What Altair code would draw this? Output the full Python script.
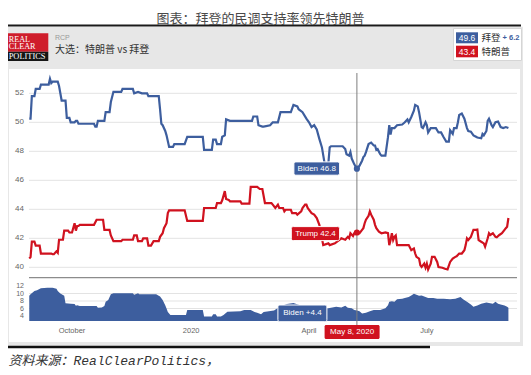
import altair as alt
import pandas as pd
from datetime import datetime, timedelta

BASE = datetime(2019, 10, 1)

# RCP polling average: (days after 2019-10-01, percent)
biden = [(-33, 50.25), (-32, 50.25), (-31, 51.8), (-29, 51.8), (-28, 52.3), (-25, 52.3), (-24, 52.6),
         (-18, 52.6), (-17, 53.0), (-16, 52.7), (-15, 52.8), (-11, 52.8), (-10, 52.5), (-9, 52.0),
         (-8, 51.5), (-5, 51.5), (-4, 50.3), (-2, 50.3), (-1, 50.0), (2, 50.0), (3, 50.1), (4, 50.1),
         (5, 49.9), (17, 49.9), (18, 49.7), (19, 49.7), (20, 50.1), (25, 50.1), (26, 50.7), (29, 50.7),
         (30, 51.4), (32, 52.1), (38, 52.1), (39, 52.3), (47, 52.3), (48, 52.0), (51, 52.1), (54, 52.0),
         (58, 52.0), (59, 51.8), (67, 51.8), (68, 50.9), (69, 49.9), (70, 49.8), (72, 49.4), (73, 49.1),
         (75, 48.3), (78, 48.3), (79, 48.5), (87, 48.5), (89, 49.0), (101, 49.0), (102, 48.1), (108, 48.1),
         (109, 48.8), (111, 48.8), (112, 48.5), (115, 48.5), (116, 49.0), (118, 49.1), (119, 50.2),
         (122, 50.1), (139, 50.1), (140, 50.4), (143, 50.4), (144, 49.8), (147, 49.7),
         (148, 49.7), (153, 49.8), (155, 50.0), (159, 50.0), (161, 50.7), (169, 50.7), (171, 51.2),
         (174, 51.1), (175, 50.9), (178, 50.7), (181, 50.25), (183, 50.0), (185, 49.67), (187, 49.8),
         (189, 49.5), (191, 48.86), (193, 48.27), (195, 47.2), (198, 47.2), (199, 48.27), (200, 48.35),
         (209, 48.35), (211, 48.15), (212, 47.8), (214, 47.7), (215, 47.95), (216, 47.5), (218, 47.1),
         (220, 46.8), (222, 47.0), (224, 47.35), (225, 47.6), (226, 47.7), (227, 47.95), (229, 48.5),
         (231, 48.6), (233, 48.4), (234, 48.4), (235, 48.1), (236, 48.15), (238, 47.8), (239, 47.7),
         (242, 47.7), (244, 48.97), (245, 49.8), (246, 49.15), (247, 49.6), (249, 49.6), (251, 49.8),
         (255, 49.85), (257, 50.0), (259, 50.2), (260, 50.0), (262, 50.37), (264, 50.8), (265, 51.2),
         (267, 51.1), (268, 50.7), (270, 49.67), (271, 49.6), (273, 50.0), (274, 49.8), (275, 49.3),
         (277, 49.6), (281, 49.6), (283, 49.3), (285, 49.3), (287, 48.97), (289, 48.67), (291, 48.67),
         (292, 49.45), (294, 49.2), (295, 49.6), (297, 49.6), (298, 50.0), (299, 50.5), (301, 50.6),
         (303, 50.25), (305, 49.6), (306, 49.4), (308, 49.35), (310, 49.1), (312, 49.0), (313, 48.95),
         (316, 48.9), (317, 49.2), (318, 49.1), (320, 49.4), (321, 50.1), (322, 50.25), (324, 49.8),
         (325, 49.67), (327, 50.0), (329, 50.05), (331, 49.67), (333, 49.6), (335, 49.67), (337, 49.6)]

trump = [(-33, 40.6), (-32, 40.7), (-31, 41.77), (-29, 41.77), (-28, 41.5), (-25, 41.5), (-24, 40.95),
         (-16, 40.95), (-15, 40.9), (-14, 40.9), (-12, 41.1), (-11, 41.0), (-10, 41.9), (-7, 41.9),
         (-6, 42.53), (-3, 42.53), (-2, 42.4), (0, 42.4), (2, 43.04), (3, 42.53), (4, 42.85), (5, 42.85),
         (6, 42.93), (17, 42.93), (19, 43.28), (24, 43.28), (25, 42.58), (29, 42.58), (30, 42.2),
         (32, 41.8), (38, 41.8), (39, 41.9), (47, 41.9), (48, 42.2), (50, 42.2), (51, 41.8), (54, 41.8),
         (55, 42.0), (58, 42.0), (59, 41.5), (61, 41.5), (63, 41.8), (67, 41.8), (68, 42.1), (70, 42.35),
         (71, 42.7), (73, 43.04), (74, 43.74), (75, 43.93), (87, 43.93), (89, 43.2), (101, 43.2),
         (102, 44.09), (111, 44.09), (112, 44.43), (115, 44.43), (116, 44.62), (118, 45.25), (119, 44.71),
         (121, 44.65), (122, 44.55), (130, 44.55), (131, 44.39), (137, 44.39), (138, 45.55), (143, 45.55),
         (145, 45.4), (147, 45.4), (149, 44.43), (154, 44.43), (155, 44.32), (157, 44.09), (159, 44.32),
         (160, 44.09), (163, 44.09), (164, 43.86), (165, 43.97), (169, 43.97), (170, 43.74), (173, 43.74),
         (174, 43.63), (177, 43.86), (178, 44.09), (180, 44.32), (181, 44.32), (182, 44.09), (185, 43.74),
         (187, 43.63), (189, 43.39), (191, 42.93), (193, 42.0), (194, 41.53), (198, 41.65), (199, 41.53),
         (203, 41.65), (208, 42.0), (211, 41.9), (213, 42.1), (214, 42.0), (215, 42.35), (217, 42.16),
         (218, 42.35), (220, 42.4), (222, 42.35), (224, 42.58), (225, 42.7), (226, 43.04), (227, 43.28),
         (229, 43.55), (230, 43.86), (231, 43.63), (233, 43.28), (234, 42.93), (235, 42.7), (237, 42.46),
         (239, 42.35), (242, 42.4), (244, 42.35), (245, 41.53), (246, 41.88), (247, 42.35), (248, 41.88),
         (249, 42.1), (250, 42.2), (251, 41.53), (260, 41.53), (262, 41.18), (264, 41.3), (265, 40.95),
         (266, 40.72), (268, 40.6), (269, 40.14), (270, 40.02), (272, 40.25), (273, 39.97), (274, 40.25),
         (275, 39.85), (277, 40.25), (278, 40.72), (280, 40.72), (282, 40.37), (283, 40.02), (286, 39.97),
         (288, 39.9), (290, 39.85), (292, 40.37), (294, 40.6), (296, 40.72), (297, 40.76), (299, 40.95),
         (301, 40.95), (303, 41.18), (304, 41.53), (305, 42.0), (306, 41.88), (308, 42.1), (310, 42.58),
         (312, 42.58), (313, 42.6), (314, 41.88), (316, 41.76), (318, 41.65), (319, 41.42), (321, 42.0),
         (322, 42.35), (323, 42.23), (325, 42.35), (327, 42.1), (328, 42.07), (330, 42.23), (332, 42.35),
         (334, 42.58), (335, 42.7), (336, 42.8), (337, 43.4)]

spread = [(-33, 9.4), (-32, 9.8), (-29, 10.67), (-27, 10.9), (-24, 11.4), (-19, 11.56), (-15, 11.56),
          (-12, 11.3), (-11, 10.67), (-9, 10.0), (-6, 9.4), (-5, 7.4), (-1, 7.3), (2, 7.2), (3, 6.76),
          (4, 6.9), (6, 6.7), (19, 6.7), (20, 6.2), (23, 6.3), (25, 6.7), (26, 7.8), (28, 8.27), (30, 9.8),
          (32, 10.1), (47, 10.1), (48, 9.7), (51, 10.1), (52, 9.8), (65, 9.8), (67, 9.4), (68, 9.2),
          (70, 8.3), (72, 6.9), (73, 6.0), (74, 5.1), (76, 4.27), (88, 4.27), (89, 5.6), (101, 5.6),
          (102, 3.9), (108, 3.9), (109, 4.45), (111, 4.45), (112, 3.9), (115, 3.9), (117, 4.3),
          (120, 5.15), (130, 5.3), (133, 5.6), (138, 5.6), (141, 5.1), (143, 4.9), (146, 4.5), (148, 5.1),
          (152, 5.3), (156, 5.5), (161, 6.6), (166, 7.2), (171, 7.5), (175, 7.0), (178, 6.6), (183, 5.9),
          (189, 6.1), (193, 6.0), (198, 6.05), (200, 6.2), (204, 6.5), (208, 6.3), (211, 6.76), (213, 6.2),
          (216, 6.05), (218, 5.6), (220, 5.5), (222, 5.3), (224, 4.7), (227, 4.9), (230, 5.3), (233, 5.6),
          (238, 5.6), (242, 6.05), (244, 6.9), (245, 7.8), (247, 7.95), (249, 7.8), (251, 8.5), (255, 8.6),
          (257, 8.8), (260, 9.1), (262, 9.5), (264, 9.95), (266, 9.7), (268, 9.4), (270, 9.5), (273, 9.1),
          (275, 8.8), (279, 8.8), (282, 8.6), (287, 8.6), (292, 8.5), (296, 8.6), (300, 9.1), (302, 8.5),
          (305, 7.8), (308, 7.1), (310, 6.5), (313, 6.8), (316, 7.3), (320, 7.6), (322, 7.5), (325, 7.3),
          (327, 7.8), (329, 7.3), (331, 7.1), (334, 6.8), (336, 6.5), (337, 6.2)]

main_ticks = [40, 42, 44, 46, 48, 50, 52]
spread_ticks = [4, 6, 8, 10, 12]
spread_grid = [6, 8, 10]
spread_floor = 2.67
month_ticks = ["2019-10-01T00:00:00", "2020-01-01T00:00:00", "2020-04-01T00:00:00", "2020-07-01T00:00:00"]
month_labels = ["October", "2020", "April", "July"]

cursor_date = "2020-05-08T00:00:00"
cursor_label = "May 8, 2020"
cursor_biden = 46.8
cursor_trump = 42.4
cursor_spread = 4.4

title_text = "图表：拜登的民调支持率领先特朗普"
subtitle_small = "RCP"
subtitle_text = "大选：特朗普 vs 拜登"
source_text = "资料来源：RealClearPolitics，"
names = ["拜登", "特朗普"]

BLUE = "#3d5e9e"
RED = "#d0121f"
SANS = "Liberation Sans"
CJK = "Noto Sans CJK SC"
W, H = 488, 253


def iso(d):
    return (BASE + timedelta(days=d)).strftime("%Y-%m-%dT%H:%M:%S")


def frame(pairs):
    return pd.DataFrame({"date": [iso(d) for d, _ in pairs], "value": [v for _, v in pairs]})


biden_df = frame(biden)
trump_df = frame(trump)
spread_df = frame(spread)
cur = pd.DataFrame({"date": [cursor_date], "biden": [cursor_biden], "trump": [cursor_trump],
                    "spread": [cursor_spread]})
one = pd.DataFrame({"k": [0]})

X_SCALE = alt.Scale(domain=[alt.DateTime(year=2019, month=8, date=28, hours=19, minutes=12),
                            alt.DateTime(year=2020, month=9, date=8, hours=15, minutes=7)])
MAIN_Y = alt.Scale(domain=[40, 52], range=[199.3, 25.3], zero=False, nice=False)
SPREAD_Y = alt.Scale(domain=[4, 12], range=[248, 218], zero=False, nice=False)

X = alt.X("date:T", scale=X_SCALE, axis=None)


def rect(x1, x2, y1, y2, fill, **kw):
    return alt.Chart(one).mark_rect(color=fill, **kw).encode(
        x=alt.value(x1), x2=alt.value(x2), y=alt.value(y1), y2=alt.value(y2))


def hline(x1, x2, y, color, w):
    return alt.Chart(one).mark_rule(color=color, strokeWidth=w).encode(
        x=alt.value(x1), x2=alt.value(x2), y=alt.value(y))


def txt(s, x, y, size, color, font=SANS, align="left", **kw):
    return alt.Chart(one).mark_text(text=s, align=align, baseline="middle", fontSize=size,
                                    color=color, font=font, **kw).encode(
        x=alt.value(x), y=alt.value(y))


layers = []
# frame, header band and white panel
layers.append(rect(-21, 494, -41.3, 278, "#e7e7e7"))
layers.append(rect(-20, 491, 1, 274, "white"))
layers.append(hline(-21, 492, -42.5, "#1a1a1a", 2.2))
# logo
layers.append(rect(-21, 19.3, -34.7, -16.3, "#cf1d2b"))
layers.append(rect(-21, 19.3, -16.3, -7, "#161616"))
layers.append(txt("REAL", -20.3, -28.3, 8.2, "white", font="Liberation Serif"))
layers.append(txt("CLEAR", -20.3, -20.8, 8.2, "white", font="Liberation Serif"))
layers.append(txt("POLITICS", -20.3, -11.6, 8.4, "white", font="Liberation Serif"))
layers.append(txt(subtitle_small, 26, -30.5, 7, "#9a9a9a"))
layers.append(txt(subtitle_text, 26, -17.7, 10, "#333333", font=CJK))
# legend box
b_last = biden[-1][1]
t_last = trump[-1][1]
layers.append(rect(424.5, 492.5, -39.5, -7.5, "white", stroke="#d5d5d5", strokeWidth=1))
layers.append(rect(427, 449, -35.7, -24.7, BLUE))
layers.append(rect(427, 449, -22.3, -10.7, RED))
layers.append(txt(f"{b_last}", 438, -30.2, 8.5, "white", align="center"))
layers.append(txt(f"{t_last}", 438, -16.5, 8.5, "white", align="center"))
layers.append(txt(names[0], 452.5, -30.2, 9.5, "#333333", font=CJK))
layers.append(txt(names[1], 452.5, -16.5, 9.5, "#333333", font=CJK))
layers.append(txt(f"+ {b_last - t_last:.1f}", 473.5, -30.2, 7.5, BLUE, fontWeight="bold"))
# title
layers.append(txt(title_text, 231.5, -48.7, 13, "#4a4a4a", font=CJK, align="center"))

# main grid + labels
main_df = pd.DataFrame({"v": main_ticks})
layers.append(alt.Chart(main_df).mark_rule(color="#e3e3e3", strokeWidth=1).encode(
    y=alt.Y("v:Q", scale=MAIN_Y, axis=None), x=alt.value(0), x2=alt.value(W)))
layers.append(alt.Chart(main_df).mark_text(align="right", baseline="middle", fontSize=8,
                                           color="#666666", font=SANS).encode(
    y=alt.Y("v:Q", scale=MAIN_Y, axis=None), x=alt.value(-5), text="v:Q"))

# spread grid + labels
layers.append(alt.Chart(pd.DataFrame({"v": spread_grid})).mark_rule(color="#e3e3e3", strokeWidth=1).encode(
    y=alt.Y("v:Q", scale=SPREAD_Y, axis=None), x=alt.value(0), x2=alt.value(W)))
layers.append(alt.Chart(pd.DataFrame({"v": spread_ticks})).mark_text(
    align="right", baseline="middle", fontSize=7, color="#666666", font=SANS).encode(
    y=alt.Y("v:Q", scale=SPREAD_Y, axis=None), x=alt.value(-5), text="v:Q"))
layers.append(hline(0, W, 209.7, "#8c8c8c", 1.2))

# spread area
layers.append(alt.Chart(spread_df).mark_area(color=BLUE, opacity=1).encode(
    x=X, y=alt.Y("value:Q", scale=SPREAD_Y, axis=None), y2=alt.datum(spread_floor)))

# lines
layers.append(alt.Chart(biden_df).mark_line(color=BLUE, strokeWidth=2.2).encode(
    x=X, y=alt.Y("value:Q", scale=MAIN_Y, axis=None)))
layers.append(alt.Chart(trump_df).mark_line(color=RED, strokeWidth=2.2).encode(
    x=X, y=alt.Y("value:Q", scale=MAIN_Y, axis=None)))

# month labels
month_df = pd.DataFrame({"date": month_ticks, "label": month_labels})
layers.append(alt.Chart(month_df).mark_text(fontSize=7.5, color="#666666", font=SANS,
                                            baseline="middle").encode(
    x=X, y=alt.value(263.3), text="label:N"))

# crosshair
layers.append(alt.Chart(cur).mark_rule(color="#7d7d7d", strokeWidth=1).encode(
    x=X, y=alt.value(5), y2=alt.value(257)))
layers.append(alt.Chart(cur).mark_circle(size=38, color=BLUE, opacity=1).encode(
    x=X, y=alt.Y("biden:Q", scale=MAIN_Y, axis=None)))
layers.append(alt.Chart(cur).mark_circle(size=38, color=RED, opacity=1).encode(
    x=X, y=alt.Y("trump:Q", scale=MAIN_Y, axis=None)))

# tooltip boxes
layers.append(alt.Chart(cur).mark_rect(color=BLUE, cornerRadius=2, stroke="white", strokeWidth=1,
                                       xOffset=-63, x2Offset=-17.3, yOffset=-6.8, y2Offset=6.5).encode(
    x=X, x2="date:T", y=alt.Y("biden:Q", scale=MAIN_Y, axis=None), y2="biden:Q"))
layers.append(alt.Chart(cur).mark_text(color="white", fontSize=8, font=SANS, dx=-40.2, dy=0,
                                       baseline="middle").encode(
    x=X, y=alt.Y("biden:Q", scale=MAIN_Y, axis=None), text=alt.value(f"Biden {cursor_biden}")))

layers.append(alt.Chart(cur).mark_rect(color=RED, cornerRadius=2, stroke="white", strokeWidth=1,
                                       xOffset=-65.6, x2Offset=-17.3, yOffset=-5.9, y2Offset=8.1).encode(
    x=X, x2="date:T", y=alt.Y("trump:Q", scale=MAIN_Y, axis=None), y2="trump:Q"))
layers.append(alt.Chart(cur).mark_text(color="white", fontSize=8, font=SANS, dx=-41.4, dy=1.1,
                                       baseline="middle").encode(
    x=X, y=alt.Y("trump:Q", scale=MAIN_Y, axis=None), text=alt.value(f"Trump {cursor_trump}")))

layers.append(alt.Chart(cur).mark_rect(color=BLUE, cornerRadius=2, stroke="white", strokeWidth=1,
                                       xOffset=-79, x2Offset=-30, yOffset=-9.5, y2Offset=7.2).encode(
    x=X, x2="date:T", y=alt.Y("spread:Q", scale=SPREAD_Y, axis=None), y2="spread:Q"))
layers.append(alt.Chart(cur).mark_text(color="white", fontSize=8, font=SANS, dx=-54.5, dy=-1.2,
                                       baseline="middle").encode(
    x=X, y=alt.Y("spread:Q", scale=SPREAD_Y, axis=None), text=alt.value(f"Biden +{cursor_spread}")))

# date box
layers.append(alt.Chart(cur).mark_rect(color=RED, cornerRadius=1.5, xOffset=-32.3, x2Offset=22.7).encode(
    x=X, x2="date:T", y=alt.value(257), y2=alt.value(271)))
layers.append(alt.Chart(cur).mark_text(color="white", fontSize=8, font=SANS, dx=-4.8,
                                       baseline="middle").encode(
    x=X, y=alt.value(264.3), text=alt.value(cursor_label)))

# source note
layers.append(hline(-21, 401, 279, "#111111", 2.5))
layers.append(txt(source_text, -20.5, 292.5, 13, "#333333",
                  font="Liberation Mono, Noto Sans CJK SC", fontStyle="italic"))

chart = alt.layer(*layers).resolve_scale(y="independent").properties(
    width=W, height=H, background="white",
    padding={"left": 21, "top": 60, "right": 6, "bottom": 46},
    autosize=alt.AutoSizeParams(type="none"),
).configure_view(stroke=None)

chart.save("out.html", embed_options={"renderer": "svg", "actions": False})
